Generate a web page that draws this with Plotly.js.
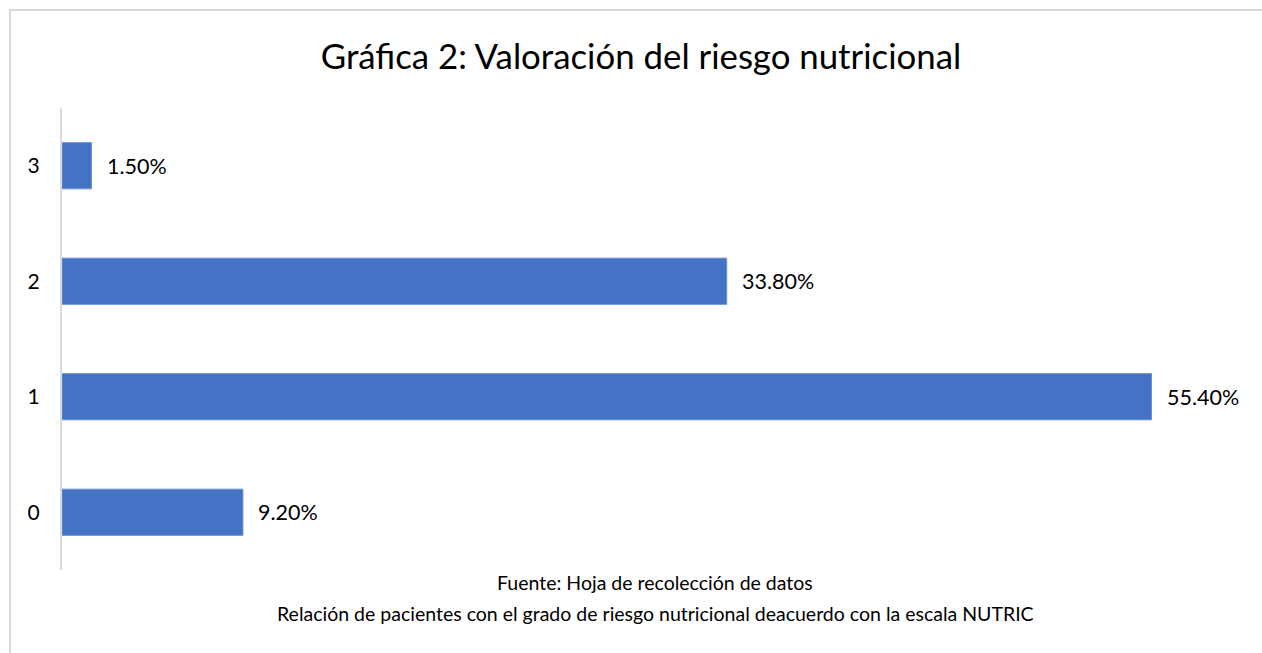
<!DOCTYPE html>
<html>
<head>
<meta charset="utf-8">
<script src="https://cdn.plot.ly/plotly-3.0.1.min.js"></script>
<style>html,body{margin:0;padding:0;background:#fff;}#chart{width:1262px;height:653px;}</style>
</head>
<body>
<div id="chart"></div>
<script>
const categories = ["0", "1", "2", "3"];
const values = [9.2, 55.4, 33.8, 1.5];
const labels = ["9.20%", "55.40%", "33.80%", "1.50%"];
const titleText = "Gráfica 2: Valoración del riesgo nutricional";
const footerLines = ["Fuente: Hoja de recolección de datos", "Relación de pacientes con el grado de riesgo nutricional deacuerdo con la escala NUTRIC"];

const FONT = "Lato, 'Open Sans', sans-serif";
const L = 62, R = 20, T = 108, B = 83, W = 1262, H = 653;
const pw = W - L - R, ph = H - T - B;
const px = X => (X - L) / pw;
const py = Y => (H - B - Y) / ph;

const annotations = values.map((v, i) => ({
  x: v, y: categories[i], xref: 'x', yref: 'y', text: labels[i],
  showarrow: false, xanchor: 'left', yanchor: 'middle', xshift: 13,
  font: {family: FONT, size: 21.5, color: '#000'}
}));
footerLines.forEach((t, i) => annotations.push({
  x: px(655), y: py(i === 0 ? 582 : 613), xref: 'paper', yref: 'paper', text: t,
  showarrow: false, xanchor: 'center', yanchor: 'middle',
  font: {family: FONT, size: 19.5, color: '#000'}
}));

Plotly.newPlot('chart', [{
  type: 'bar', orientation: 'h', x: values, y: categories,
  width: 0.4, marker: {color: '#4472C4', line: {color: '#6a90d6', width: 1}},
  hoverinfo: 'none'
}], {
  width: W, height: H,
  margin: {l: L, r: R, t: T, b: B},
  paper_bgcolor: '#fff', plot_bgcolor: '#fff',
  showlegend: false,
  title: {text: titleText, x: 641 / W, xanchor: 'center', y: 1 - 57 / H, yanchor: 'middle',
          font: {family: FONT, size: 34.8, color: '#000'}},
  xaxis: {range: [0, 60], showgrid: false, zeroline: false, showticklabels: false, showline: false, fixedrange: true},
  yaxis: {type: 'category', categoryorder: 'array', categoryarray: categories, range: [-0.5, 3.5],
          showgrid: false, zeroline: false, showline: true, linecolor: '#d9d9d9', linewidth: 2,
          ticks: '', ticklabelstandoff: 16, tickfont: {family: FONT, size: 21, color: '#000'}},
  annotations: annotations,
  shapes: [
    {type: 'line', xref: 'paper', yref: 'paper', x0: px(9), x1: px(1275), y0: py(10), y1: py(10), line: {color: '#d9d9d9', width: 2}},
    {type: 'line', xref: 'paper', yref: 'paper', x0: px(10), x1: px(10), y0: py(9), y1: py(660), line: {color: '#d9d9d9', width: 2}}
  ]
}, {staticPlot: true});
</script>
</body>
</html>
